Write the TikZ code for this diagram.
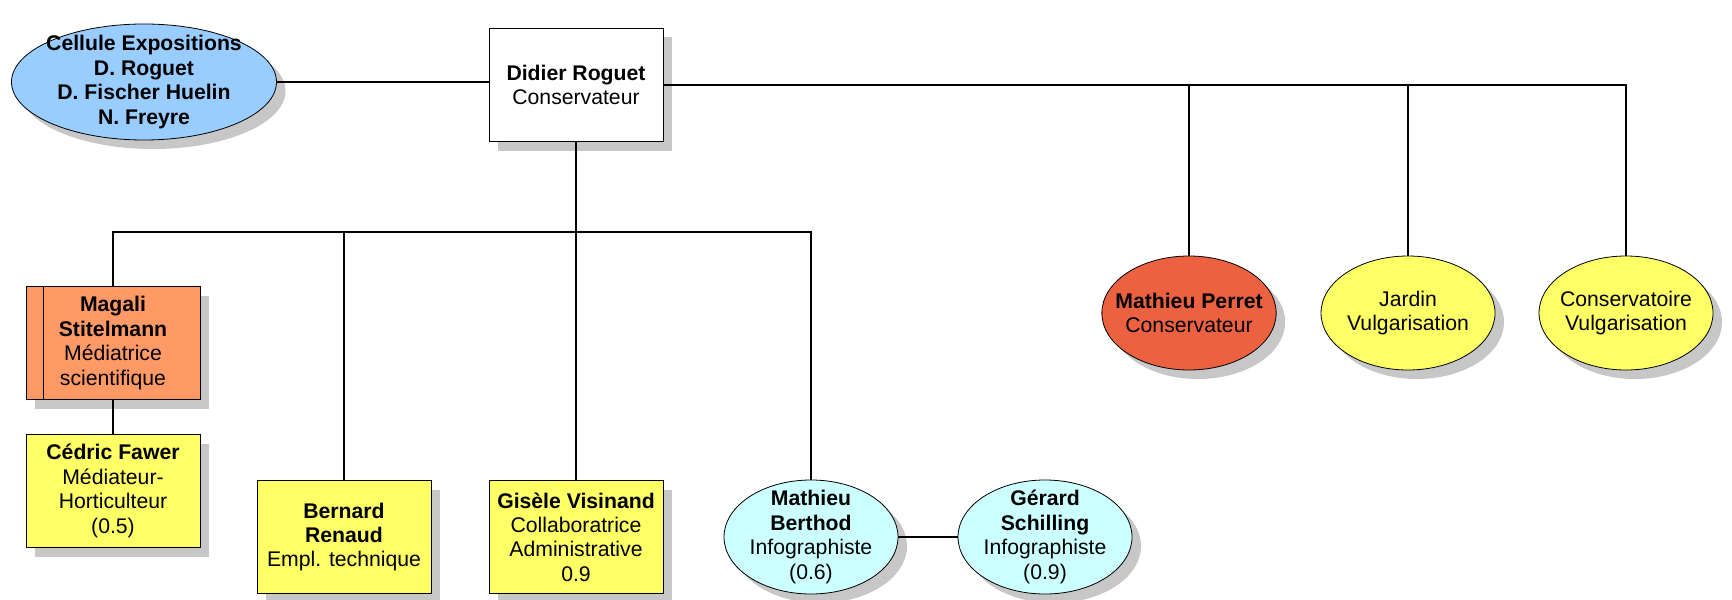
\documentclass[tikz,border=0pt]{standalone}
\usepackage{fontspec}
\setmainfont{Liberation Sans}
\usetikzlibrary{positioning, shapes, shadows, calc}

\definecolor{cellblue}{HTML}{99CCFF}
\definecolor{salmon}{HTML}{FF9966}
\definecolor{paleyellow}{HTML}{FFFF66}
\definecolor{brick}{RGB}{236,98,64}
\definecolor{palecyan}{HTML}{CCFFFF}

\tikzset{
	every node/.style={font=\fontsize{10.6}{12.2}\selectfont, align=center},
	shade/.style={drop shadow={shadow xshift=4.5pt, shadow yshift=-4.5pt, fill=black!22, opacity=1}},
	personbox/.style={rectangle, draw, shade, minimum width=87pt, minimum height=56.5pt, inner sep=2pt},
	personoval/.style={ellipse, draw, shade, minimum width=87pt, minimum height=57pt, inner sep=-6pt},
	link/.style={line width=0.6pt}
}

\begin{document}
\begin{tikzpicture}[x=0.5pt, y=-0.5pt]
		
		\useasboundingbox (0,0) rectangle (1732,599);
		
		%Head of the unit
		\node (didier) at (576,85) [personbox, fill=white]{\textbf{Didier Roguet}\\Conservateur};
		
		%Exhibition cell
		\node (cellule) at (144,82) [personoval, fill=cellblue, minimum width=132.5pt, minimum height=58pt]{
			\textbf{Cellule Expositions}\\\textbf{D. Roguet}\\\textbf{D. Fischer Huelin}\\\textbf{N. Freyre}};
		
		%Right branch
		\node (perret) at (1189,313) [personoval, fill=brick]{\textbf{Mathieu Perret}\\Conservateur};
		\node (jardin) at (1408,313) [personoval, fill=paleyellow]{Jardin\\Vulgarisation};
		\node (conservatoire) at (1626,313) [personoval, fill=paleyellow]{Conservatoire\\Vulgarisation};
		
		%Lower branch
		\node (magali) at (113,343) [personbox, fill=salmon]{\textbf{Magali}\\\textbf{Stitelmann}\\M\'ediatrice\\scientifique};
		\node (cedric) at (113,491) [personbox, fill=paleyellow]{\textbf{C\'edric Fawer}\\M\'ediateur-\\Horticulteur\\(0.5)};
		\node (bernard) at (344,537) [personbox, fill=paleyellow]{\textbf{Bernard}\\\textbf{Renaud}\\Empl. technique};
		\node (gisele) at (576,537) [personbox, fill=paleyellow]{\textbf{Gis\`ele Visinand}\\Collaboratrice\\Administrative\\0.9};
		\node (berthod) at (811,537) [personoval, fill=palecyan]{\textbf{Mathieu}\\\textbf{Berthod}\\Infographiste\\(0.6)};
		\node (gerard) at (1045,537) [personoval, fill=palecyan]{\textbf{G\'erard}\\\textbf{Schilling}\\Infographiste\\(0.9)};
		
		%Stripe on the left of Magali
		\draw[link] ([xshift=8.8pt]magali.north west) -- ([xshift=8.8pt]magali.south west);
		
		%Bus under the head
		\coordinate (bus) at (576,232);
		
		%Connectors
		\draw[link] (cellule.east) -- (cellule.east -| didier.west);
		\draw[link] (didier.east) -| (perret.north);
		\draw[link] (didier.east) -| (jardin.north);
		\draw[link] (didier.east) -| (conservatoire.north);
		\draw[link] (didier.south) -- (gisele.north);
		\draw[link] (magali.north) |- (bus) -| (berthod.north);
		\draw[link] (bernard.north) -- (bernard.north |- bus);
		\draw[link] (magali.south) -- (cedric.north);
		\draw[link] (berthod.east) -- (gerard.west);
		
\end{tikzpicture}
\end{document}
